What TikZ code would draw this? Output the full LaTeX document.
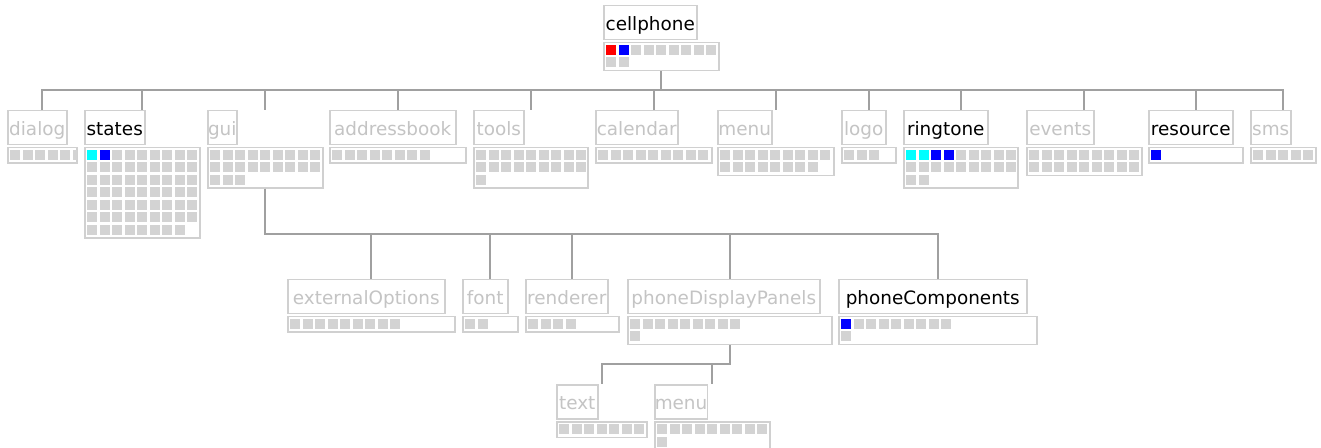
\documentclass[tikz,border=0pt]{standalone}
\usepackage{fontspec}
\setmainfont{DejaVu Sans}
\usetikzlibrary{calc}
\definecolor{boxline}{HTML}{D0D0D0}
\definecolor{cellgray}{HTML}{D3D3D3}
\definecolor{fadetext}{HTML}{C4C4C4}
\definecolor{linkgray}{HTML}{A0A0A0}
\definecolor{cellred}{HTML}{FF0000}
\definecolor{cellblue}{HTML}{0000FF}
\definecolor{cellcyan}{HTML}{00FFFF}

% class box: label on top, cell grid below
\newcommand{\classbox}[8]{%
  \node[lbl, #7, minimum width=#4*0.5pt, anchor=north west] (#1) at (#2,#3) {#8};
  \pgfmathsetmacro{\gridh}{(3+12.5*ceil(#6/9))*0.5}
  \node[gridbox, minimum width=#5*0.5pt, minimum height=\gridh pt, anchor=north west] (#1_g) at ($(#1.south west)+(0,1.5)$) {};
  \coordinate (#1_top) at (#1_g.center |- #1.north);
  \begin{scope}
    \clip (#1_g.north west) rectangle (#1_g.south east);
    \foreach \k in {1,...,#6} {
      \pgfmathtruncatemacro{\cellc}{mod(\k-1,9)}
      \pgfmathtruncatemacro{\cellr}{div(\k-1,9)}
      \fill[cellgray] ($(#1_g.north west)+(3+12.5*\cellc,3+12.5*\cellr)$) rectangle ++(10,10);
    }
  \end{scope}
}
\newcommand{\colorcell}[3]{%
  \pgfmathtruncatemacro{\cellc}{mod(#2-1,9)}
  \pgfmathtruncatemacro{\cellr}{div(#2-1,9)}
  \fill[#3] ($(#1_g.north west)+(3+12.5*\cellc,3+12.5*\cellr)$) rectangle ++(10,10);
}

\begin{document}
\begin{tikzpicture}[
    x=0.5pt, y=-0.5pt,
    lbl/.style={draw=boxline, line width=0.75pt, fill=white, inner sep=0pt, minimum height=17pt,
      text height=8.5pt, text depth=0.5pt, font=\fontsize{9.2}{10}\selectfont},
    lit/.style={text=black},
    faded/.style={text=fadetext},
    gridbox/.style={draw=boxline, line width=0.75pt, fill=white, inner sep=0pt},
    link/.style={draw=linkgray, line width=1pt}
]
    \useasboundingbox (0,0) rectangle (1321,448);

    % Root
    \classbox{cellphone}{603}{5}{93}{115}{11}{lit}{cellphone}

    % First level
    \classbox{dialog}{7}{110}{59}{69}{6}{faded}{dialog}
    \classbox{states}{84}{110}{60}{115}{62}{lit}{states}
    \classbox{gui}{207}{110}{29}{115}{21}{faded}{gui}
    \classbox{addrbook}{329}{110}{126}{136}{8}{faded}{addressbook}
    \classbox{tools}{473}{110}{50}{114}{19}{faded}{tools}
    \classbox{calendar}{595}{110}{82}{116}{9}{faded}{calendar}
    \classbox{menu}{717}{110}{54}{116}{17}{faded}{menu}
    \classbox{logo}{841}{110}{44}{54}{3}{faded}{logo}
    \classbox{ringtone}{903}{110}{84}{114}{20}{lit}{ringtone}
    \classbox{events}{1026}{110}{67}{115}{18}{faded}{events}
    \classbox{resource}{1148}{110}{84}{94}{1}{lit}{resource}
    \classbox{sms}{1250}{110}{40}{65}{5}{faded}{sms}

    % Under gui
    \classbox{extopts}{287}{279}{157}{167}{9}{faded}{externalOptions}
    \classbox{fontn}{462}{279}{45}{55}{2}{faded}{font}
    \classbox{renderer}{525}{279}{82}{93}{4}{faded}{renderer}
    \classbox{dpanels}{627}{279}{192}{204}{10}{faded}{phoneDisplayPanels}
    \classbox{pcomps}{838}{279}{188}{198}{10}{lit}{phoneComponents}

    % Under phoneDisplayPanels
    \classbox{txt}{556}{384}{41}{90}{7}{faded}{text}
    \classbox{dpmenu}{654}{384}{52}{115}{10}{faded}{menu}

    % Coloured cells
    \colorcell{cellphone}{1}{cellred}
    \colorcell{cellphone}{2}{cellblue}
    \colorcell{states}{1}{cellcyan}
    \colorcell{states}{2}{cellblue}
    \colorcell{ringtone}{1}{cellcyan}
    \colorcell{ringtone}{2}{cellcyan}
    \colorcell{ringtone}{3}{cellblue}
    \colorcell{ringtone}{4}{cellblue}
    \colorcell{resource}{1}{cellblue}
    \colorcell{pcomps}{1}{cellblue}

    % Links
    \coordinate (bus1) at (0,90);
    \coordinate (bus2) at (0,234);
    \coordinate (bus3) at (0,364);
    \foreach \kid in {dialog,states,gui,addrbook,tools,calendar,menu,logo,ringtone,events,resource,sms}
        \draw[link] (cellphone_g.south) -- (cellphone_g.south |- bus1) -| (\kid_top);
    \foreach \kid in {extopts,fontn,renderer,dpanels,pcomps}
        \draw[link] (gui_g.south) -- (gui_g.south |- bus2) -| (\kid_top);
    \foreach \kid in {txt,dpmenu}
        \draw[link] (dpanels_g.south) -- (dpanels_g.south |- bus3) -| (\kid_top);

\end{tikzpicture}
\end{document}
